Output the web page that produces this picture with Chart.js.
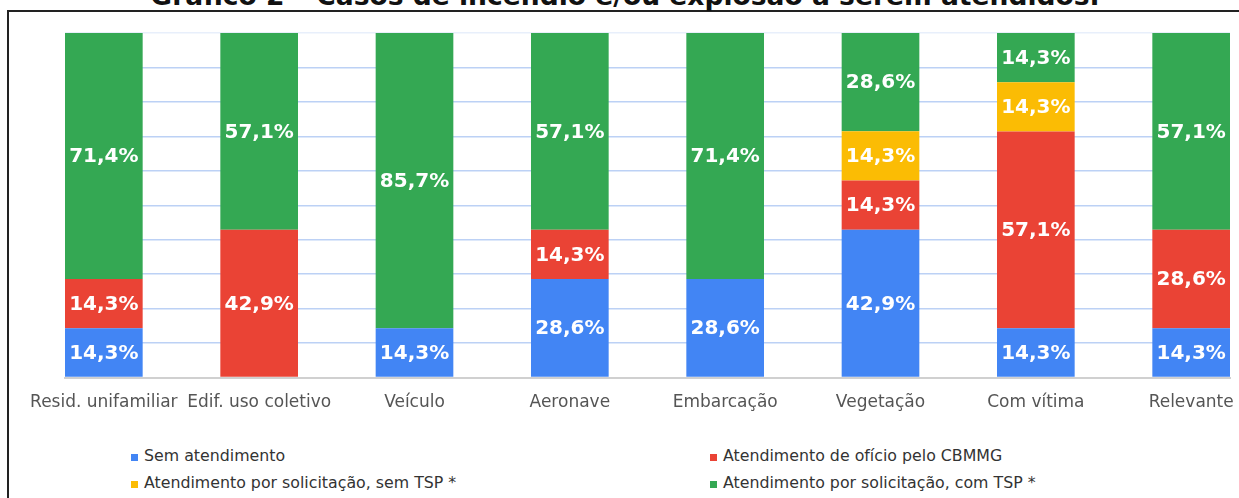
<!DOCTYPE html>
<html>
<head>
<meta charset="utf-8">
<script src="https://cdn.jsdelivr.net/npm/chart.js@4/dist/chart.umd.min.js"></script>
<style>
  html, body { margin: 0; padding: 0; background: #fff; overflow: hidden; }
  body { width: 1239px; height: 498px; position: relative; font-family: "DejaVu Sans", Verdana, sans-serif; }
  #frame { position: absolute; left: 7px; top: 10px; width: 1300px; height: 600px;
           border-left: 2px solid #222; border-top: 2px solid #222; box-sizing: border-box; }
  #title { position: absolute; left: 0; top: -15px; width: 1250px; text-align: center; white-space: nowrap;
           font-weight: bold; font-size: 22px; line-height: 22px; color: #111; }
  #title span { display: inline-block; }
  #wrap { position: absolute; left: 0; top: 0; width: 1239px; height: 430px; }
  .leg { position: absolute; font-size: 15.8px; color: #333; white-space: nowrap; line-height: 20px; }
  .leg i { display: inline-block; width: 7px; height: 7px; margin-right: 6px; vertical-align: 0px; }
</style>
</head>
<body>
<div id="frame"></div>
<div id="title"><span id="titleText">Gráfico 2 – Casos de incêndio e/ou explosão a serem atendidos.</span></div>
<div id="wrap"><canvas id="c"></canvas></div>
<div id="legend"></div>
<script>
const categories = ["Resid. unifamiliar", "Edif. uso coletivo", "Veículo", "Aeronave", "Embarcação", "Vegetação", "Com vítima", "Relevante"];
const seriesNames = ["Sem atendimento", "Atendimento de ofício pelo CBMMG", "Atendimento por solicitação, sem TSP *", "Atendimento por solicitação, com TSP *"];
const seriesColors = ["#4285F4", "#EA4335", "#FBBC04", "#34A853"];
const semAtendimento = [14.3, 0, 14.3, 28.6, 28.6, 42.9, 14.3, 14.3];
const atendimentoOficio = [14.3, 42.9, 0, 14.3, 0, 14.3, 57.1, 28.6];
const solicitacaoSemTSP = [0, 0, 0, 0, 0, 14.3, 14.3, 0];
const solicitacaoComTSP = [71.4, 57.1, 85.7, 57.1, 71.4, 28.6, 14.3, 57.1];
const yTicks = [0, 10, 20, 30, 40, 50, 60, 70, 80, 90, 100];

const seriesValues = [semAtendimento, atendimentoOficio, solicitacaoSemTSP, solicitacaoComTSP];

// fit title width
(function(){
  const s = document.getElementById('titleText');
  const w = s.getBoundingClientRect().width;
  const fs = 22 * 950 / w;
  document.getElementById('title').style.fontSize = fs + 'px';
})();

const labelPlugin = {
  id: 'segLabels',
  afterDatasetsDraw(chart) {
    const ctx = chart.ctx;
    ctx.save();
    ctx.font = 'bold 20px "DejaVu Sans", Verdana, sans-serif';
    ctx.fillStyle = '#ffffff';
    ctx.textAlign = 'center';
    ctx.textBaseline = 'middle';
    chart.data.datasets.forEach((ds, di) => {
      const meta = chart.getDatasetMeta(di);
      meta.data.forEach((el, i) => {
        const v = ds.data[i].y;
        if (!v) return;
        const p = el.getProps(['x', 'y', 'base'], true);
        const cy = (p.y + p.base) / 2;
        ctx.fillText(v.toFixed(1).replace('.', ',') + '%', p.x, cy + 1);
      });
    });
    ctx.restore();
  }
};

new Chart(document.getElementById('c'), {
  type: 'bar',
  data: {
    datasets: seriesNames.map((name, k) => ({
      label: name,
      data: seriesValues[k].map((v, i) => ({ x: i, y: v })),
      backgroundColor: seriesColors[k],
      borderWidth: 0,
      barPercentage: 0.5,
      categoryPercentage: 1.0
    }))
  },
  options: {
    responsive: true,
    maintainAspectRatio: false,
    animation: false,
    layout: { padding: { left: 65, right: 9, top: 33, bottom: 2 } },
    plugins: { legend: { display: false }, tooltip: { enabled: false }, title: { display: false } },
    scales: {
      x: {
        type: 'linear',
        offset: false,
        stacked: true,
        min: -0.25,
        max: 7.25,
        afterBuildTicks(scale) { scale.ticks = categories.map((_, i) => ({ value: i })); },
        afterFit(scale) { scale.paddingLeft = 0; scale.paddingRight = 0; },
        ticks: {
          autoSkip: false, maxRotation: 0, minRotation: 0, padding: 15,
          color: '#555',
          font: { family: '"DejaVu Sans", Verdana, sans-serif', size: 17 },
          callback: (v) => categories[v]
        },
        grid: { display: false, drawTicks: false, offset: false },
        border: { display: true, color: '#d0d0d0', width: 2 }
      },
      y: {
        stacked: true,
        min: 0,
        max: 100,
        afterBuildTicks(scale) { scale.ticks = yTicks.map(v => ({ value: v })); },
        ticks: { display: false },
        grid: {
          drawTicks: false,
          color: (c) => c.tick && c.tick.value === 0 ? 'rgba(0,0,0,0)' : (c.tick && c.tick.value === 100 ? '#e8effb' : '#bcd1f5'),
          lineWidth: 1.5
        },
        border: { display: false }
      }
    }
  },
  plugins: [labelPlugin]
});

// HTML legend in two columns
const legend = document.getElementById('legend');
const pos = [[131, 446], [710, 446], [131, 473], [710, 473]];
seriesNames.forEach((n, k) => {
  const d = document.createElement('div');
  d.className = 'leg';
  d.style.left = pos[k][0] + 'px';
  d.style.top = pos[k][1] + 'px';
  const b = document.createElement('i');
  b.style.background = seriesColors[k];
  d.appendChild(b);
  d.appendChild(document.createTextNode(n));
  legend.appendChild(d);
});
</script>
</body>
</html>
